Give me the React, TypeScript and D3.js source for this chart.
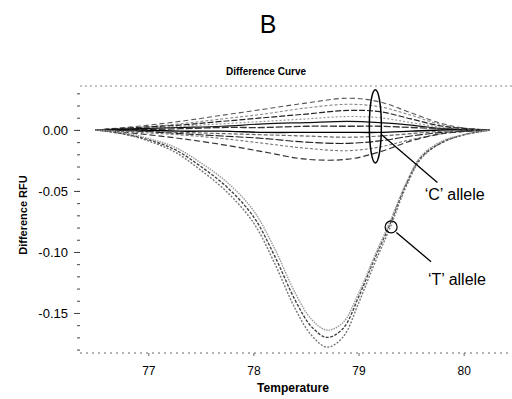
import React, { useRef, useEffect } from "react";
import * as d3 from "d3";

// temperature grids
const tempT = [76.5, 76.75, 77.0, 77.25, 77.5, 77.75, 78.0, 78.2, 78.4, 78.55, 78.7, 78.85, 79.0, 79.15, 79.3, 79.45, 79.6, 79.8, 80.0, 80.25];
const tempC = [76.5, 76.9, 77.3, 77.7, 78.1, 78.5, 78.9, 79.2, 79.5, 79.8, 80.05, 80.25];

// 'T' allele curves
const t1 = [0, -0.003, -0.009, -0.018, -0.033, -0.051, -0.076, -0.109, -0.147, -0.168, -0.178, -0.170, -0.142, -0.110, -0.080, -0.047, -0.023, -0.010, -0.004, 0];
const t2 = [0, -0.003, -0.008, -0.016, -0.030, -0.047, -0.071, -0.103, -0.140, -0.161, -0.170, -0.163, -0.137, -0.106, -0.077, -0.045, -0.022, -0.010, -0.004, 0];
const t3 = [0, -0.002, -0.007, -0.014, -0.027, -0.043, -0.066, -0.097, -0.134, -0.155, -0.164, -0.158, -0.134, -0.104, -0.075, -0.044, -0.021, -0.009, -0.004, 0];

// 'C' allele curves
const c1 = [0, 0.003, 0.007, 0.012, 0.017, 0.022, 0.026, 0.023, 0.014, 0.005, 0.001, 0];
const c2 = [0, 0.002, 0.005, 0.009, 0.013, 0.018, 0.021, 0.019, 0.012, 0.004, 0.001, 0];
const c3 = [0, 0.002, 0.004, 0.007, 0.010, 0.013, 0.016, 0.015, 0.009, 0.003, 0.001, 0];
const c4 = [0, 0.001, 0.003, 0.005, 0.007, 0.009, 0.011, 0.010, 0.006, 0.002, 0.0, 0];
const c5 = [0, 0.001, 0.002, 0.003, 0.005, 0.006, 0.007, 0.006, 0.004, 0.001, 0.0, 0];
const c6 = [0, 0.0, 0.001, 0.002, 0.002, 0.003, 0.003, 0.003, 0.002, 0.001, 0.0, 0];
const c7 = [0, 0.0, -0.001, -0.001, -0.002, -0.002, -0.002, -0.002, -0.001, 0.0, 0, 0];
const c8 = [0, -0.001, -0.002, -0.003, -0.004, -0.005, -0.006, -0.005, -0.003, -0.001, 0, 0];
const c9 = [0, -0.001, -0.003, -0.005, -0.007, -0.010, -0.011, -0.009, -0.005, -0.002, -0.001, 0];
const c10 = [0, -0.002, -0.004, -0.007, -0.011, -0.015, -0.017, -0.014, -0.008, -0.003, -0.001, 0];
const c11 = [0, -0.003, -0.007, -0.012, -0.018, -0.024, -0.024, -0.018, -0.009, -0.003, -0.001, 0];

const xTicks = [77, 78, 79, 80];
const yTicks = [0, -0.05, -0.1, -0.15];
const yMinorTicks = [0.03, 0.02, 0.01, 0, -0.01, -0.02, -0.03, -0.04, -0.05, -0.06, -0.07, -0.08, -0.09, -0.1, -0.11, -0.12, -0.13, -0.14, -0.15, -0.16, -0.17, -0.18];

const tSeries = [t1, t2, t3];
const cSeries = [c1, c2, c3, c4, c5, c6, c7, c8, c9, c10, c11];

export default function App() {
  const svgRef = useRef<SVGSVGElement>(null);

  useEffect(() => {
    const W = 512;
    const H = 399;
    const svg = d3.select(svgRef.current).attr("width", W).attr("height", H);
    svg.selectAll("*").remove();

    const x = d3.scaleLinear().domain([76.35, 80.46]).range([80, 512]);
    const y = d3.scaleLinear().domain([0.036, -0.1828]).range([86, 353]);
    const font = "Arial, 'Liberation Sans', sans-serif";

    // titles
    svg.append("text").attr("x", 268).attr("y", 33).attr("text-anchor", "middle")
      .style("font-family", font).style("font-size", "25px").text("B");
    svg.append("text").attr("x", 266).attr("y", 75).attr("text-anchor", "middle")
      .style("font-family", font).style("font-size", "10px").style("font-weight", "bold")
      .text("Difference Curve");

    // frame lines (dotted)
    svg.append("line").attr("x1", 80).attr("x2", 512).attr("y1", y(0.036)).attr("y2", y(0.036))
      .attr("stroke", "#888").attr("stroke-dasharray", "2,3");
    svg.append("line").attr("x1", 80).attr("x2", 512).attr("y1", y(-0.1828)).attr("y2", y(-0.1828))
      .attr("stroke", "#666").attr("stroke-dasharray", "2,4");

    // y axis
    const fmt = (d: d3.NumberValue) => d3.format(".2f")(d).replace("−", "-");
    const yAxis = svg.append("g").attr("transform", "translate(80,0)");
    yAxis.call(d3.axisLeft(y).tickValues(yMinorTicks).tickSize(3).tickFormat(() => ""));
    yAxis.call((g) => g.select(".domain").remove());
    yAxis.selectAll("line").attr("stroke", "#444");
    const yLab = svg.append("g").attr("transform", "translate(80,0)");
    yLab.call(d3.axisLeft(y).tickValues(yTicks).tickSize(6).tickPadding(6).tickFormat(fmt));
    yLab.call((g) => g.select(".domain").remove());
    yLab.selectAll("line").attr("stroke", "#444");
    yLab.selectAll("text").style("font-family", font).style("font-size", "13px").attr("fill", "#000");

    // x axis
    const xAxis = svg.append("g").attr("transform", `translate(0,${y(-0.1828)})`);
    xAxis.call(d3.axisBottom(x).tickValues(xTicks).tickSize(3).tickPadding(10).tickFormat(d3.format("d")));
    xAxis.call((g) => g.select(".domain").remove());
    xAxis.selectAll("line").attr("stroke", "#666");
    xAxis.selectAll("text").style("font-family", font).style("font-size", "12px").attr("fill", "#000");

    // axis titles
    svg.append("text").attr("x", 293).attr("y", 392).attr("text-anchor", "middle")
      .style("font-family", font).style("font-size", "12px").style("font-weight", "bold")
      .text("Temperature");
    svg.append("text").attr("transform", "translate(27,215) rotate(-90)").attr("text-anchor", "middle")
      .style("font-family", font).style("font-size", "11px").style("font-weight", "bold")
      .text("Difference RFU");

    const line = d3.line<[number, number]>()
      .x((d) => x(d[0]))
      .y((d) => y(d[1]))
      .curve(d3.curveCatmullRom.alpha(0.5));

    // C allele curves
    const cStyles = [
      { stroke: "#555", dash: "5,3", w: 1.1 },
      { stroke: "#888", dash: "3,2", w: 1.1 },
      { stroke: "#222", dash: "6,2", w: 1.2 },
      { stroke: "#999", dash: "2,2", w: 1.2 },
      { stroke: "#111", dash: "", w: 1.2 },
      { stroke: "#333", dash: "7,2", w: 1.3 },
      { stroke: "#000", dash: "", w: 1.4 },
      { stroke: "#666", dash: "4,2", w: 1.2 },
      { stroke: "#222", dash: "8,2", w: 1.1 },
      { stroke: "#777", dash: "3,2", w: 1.1 },
      { stroke: "#333", dash: "6,3", w: 1.2 },
    ];
    cSeries.forEach((s, i) => {
      const pts = tempC.map((t, j) => [t, s[j]] as [number, number]);
      svg.append("path").attr("d", line(pts)).attr("fill", "none")
        .attr("stroke", cStyles[i].stroke).attr("stroke-width", cStyles[i].w)
        .attr("stroke-dasharray", cStyles[i].dash);
    });

    // T allele curves
    const tStyles = [
      { stroke: "#777", dash: "2,1.5" },
      { stroke: "#444", dash: "3,1.5" },
      { stroke: "#999", dash: "1.5,1" },
    ];
    tSeries.forEach((s, i) => {
      const pts = tempT.map((t, j) => [t, s[j]] as [number, number]);
      svg.append("path").attr("d", line(pts)).attr("fill", "none")
        .attr("stroke", tStyles[i].stroke).attr("stroke-width", 1.4)
        .attr("stroke-dasharray", tStyles[i].dash);
    });

    // annotations
    svg.append("ellipse").attr("cx", x(79.16)).attr("cy", y(0.003))
      .attr("rx", 6).attr("ry", y(-0.027) - y(0.003))
      .attr("fill", "none").attr("stroke", "#000").attr("stroke-width", 1.5);
    svg.append("line").attr("x1", x(79.22)).attr("y1", y(-0.004))
      .attr("x2", x(79.75)).attr("y2", y(-0.043)).attr("stroke", "#000").attr("stroke-width", 1.3);
    svg.append("text").attr("x", x(79.63)).attr("y", y(-0.0574))
      .style("font-family", font).style("font-size", "16px").text("‘C’ allele");

    svg.append("circle").attr("cx", x(79.31)).attr("cy", y(-0.0795)).attr("r", 6)
      .attr("fill", "none").attr("stroke", "#000").attr("stroke-width", 1.2);
    svg.append("line").attr("x1", x(79.36)).attr("y1", y(-0.084))
      .attr("x2", x(79.69)).attr("y2", y(-0.108)).attr("stroke", "#000").attr("stroke-width", 1.3);
    svg.append("text").attr("x", x(79.66)).attr("y", y(-0.127))
      .style("font-family", font).style("font-size", "16px").text("‘T’ allele");
  }, []);

  return <svg ref={svgRef} style={{ position: "absolute", left: 0, top: 0 }}></svg>;
}
